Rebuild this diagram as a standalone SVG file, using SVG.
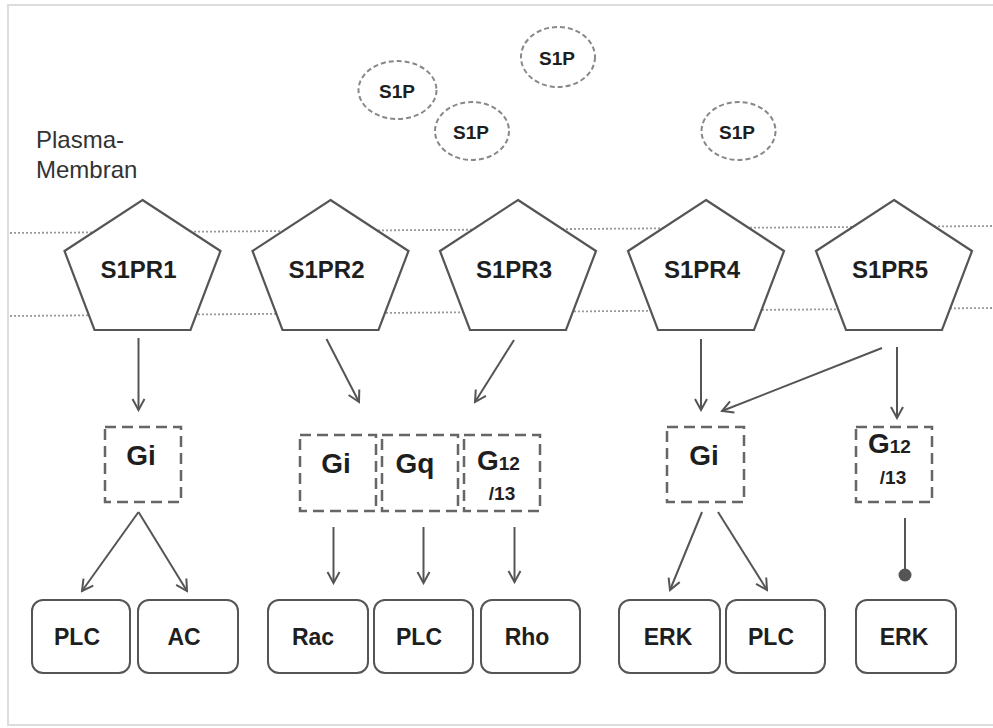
<svg xmlns="http://www.w3.org/2000/svg" width="993" height="728" viewBox="0 0 993 728">
<style>
.t{font-family:"Liberation Sans",Arial,sans-serif;font-weight:bold;fill:#1e1e1e;}
.pent{fill:#fff;stroke:#555;stroke-width:2.2;}
.lig{fill:#fff;stroke:#888;stroke-width:2;stroke-dasharray:5 3;}
.gp{fill:#fff;stroke:#666;stroke-width:2.5;stroke-dasharray:11 6;}
.eff{fill:#fff;stroke:#555;stroke-width:2;}
.mem{stroke:#999;stroke-width:1.8;stroke-dasharray:2 2;fill:none;}
.con{stroke:#555;stroke-width:2;fill:none;}
.arr{marker-end:url(#ah);}
</style>
<defs>
<marker id="ah" viewBox="-13 -8 15 16" refX="0" refY="0" markerWidth="15" markerHeight="16" markerUnits="userSpaceOnUse" orient="auto">
<path d="M-11,-6 L0,0 L-11,6" fill="none" stroke="#555" stroke-width="2"/>
</marker>
</defs>
<rect x="0" y="0" width="993" height="728" fill="#fff"/>
<rect x="8" y="5" width="1000" height="720" fill="none" stroke="#ddd" stroke-width="2"/>
<g id="membrane">
<line class="mem" x1="10" y1="233" x2="993" y2="226"/>
<line class="mem" x1="10" y1="316" x2="993" y2="308"/>
<text x="36" y="148" style="font-family:'Liberation Sans',Arial,sans-serif;font-size:24px;fill:#333">Plasma-</text>
<text x="36" y="178" style="font-family:'Liberation Sans',Arial,sans-serif;font-size:24px;fill:#333">Membran</text>
</g>
<g id="s1p1"><ellipse class="lig" cx="558" cy="57" rx="37" ry="30"/><text class="t" x="557" y="65" font-size="19" text-anchor="middle">S1P</text></g>
<g id="s1p2"><ellipse class="lig" cx="397.5" cy="90" rx="39" ry="29"/><text class="t" x="397" y="98" font-size="19" text-anchor="middle">S1P</text></g>
<g id="s1p3"><ellipse class="lig" cx="472" cy="131" rx="37" ry="29"/><text class="t" x="471" y="139" font-size="19" text-anchor="middle">S1P</text></g>
<g id="s1p4"><ellipse class="lig" cx="738.5" cy="131" rx="37" ry="29"/><text class="t" x="737" y="139" font-size="19" text-anchor="middle">S1P</text></g>
<g id="s1pr1"><polygon class="pent" points="142.5,200 220.5,251 190.5,330 94.5,330 64.5,251"/><text class="t" x="138.5" y="278" font-size="24" text-anchor="middle">S1PR1</text></g>
<g id="s1pr2"><polygon class="pent" points="330.5,200 408.5,251 378.5,330 282.5,330 252.5,251"/><text class="t" x="326.5" y="278" font-size="24" text-anchor="middle">S1PR2</text></g>
<g id="s1pr3"><polygon class="pent" points="518,200 596,251 566,330 470,330 440,251"/><text class="t" x="514" y="278" font-size="24" text-anchor="middle">S1PR3</text></g>
<g id="s1pr4"><polygon class="pent" points="706,200 784,251 754,330 658,330 628,251"/><text class="t" x="702" y="278" font-size="24" text-anchor="middle">S1PR4</text></g>
<g id="s1pr5"><polygon class="pent" points="894,200 972,251 942,330 846,330 816,251"/><text class="t" x="890" y="278" font-size="24" text-anchor="middle">S1PR5</text></g>
<g id="gi1"><rect class="gp" x="105" y="427" width="76" height="75"/><text class="t" x="141" y="465" font-size="28" text-anchor="middle">Gi</text></g>
<g id="gi2"><rect class="gp" x="300" y="435" width="76" height="76"/><text class="t" x="336" y="473" font-size="28" text-anchor="middle">Gi</text></g>
<g id="gq"><rect class="gp" x="382" y="435" width="76" height="76"/><text class="t" x="415" y="473" font-size="28" text-anchor="middle">Gq</text></g>
<g id="g1213a"><rect class="gp" x="464" y="435" width="76" height="76"/><text class="t" x="477" y="470" font-size="28">G<tspan font-size="19">12</tspan></text><text class="t" x="502" y="500" font-size="19" text-anchor="middle">/13</text></g>
<g id="gi4"><rect class="gp" x="667" y="427" width="77" height="75"/><text class="t" x="704" y="465" font-size="28" text-anchor="middle">Gi</text></g>
<g id="g1213b"><rect class="gp" x="856" y="427" width="76" height="75"/><text class="t" x="868" y="453" font-size="28">G<tspan font-size="19">12</tspan></text><text class="t" x="893" y="484" font-size="19" text-anchor="middle">/13</text></g>
<g id="plc1"><rect class="eff" x="32" y="600" width="98" height="73" rx="11"/><text class="t" x="77" y="645" font-size="23" text-anchor="middle">PLC</text></g>
<g id="ac"><rect class="eff" x="138" y="600" width="100" height="73" rx="11"/><text class="t" x="184" y="645" font-size="23" text-anchor="middle">AC</text></g>
<g id="rac"><rect class="eff" x="268" y="600" width="100" height="73" rx="11"/><text class="t" x="313" y="645" font-size="23" text-anchor="middle">Rac</text></g>
<g id="plc2"><rect class="eff" x="374" y="600" width="99" height="73" rx="11"/><text class="t" x="419" y="645" font-size="23" text-anchor="middle">PLC</text></g>
<g id="rho"><rect class="eff" x="481" y="600" width="99" height="73" rx="11"/><text class="t" x="527" y="645" font-size="23" text-anchor="middle">Rho</text></g>
<g id="erk1"><rect class="eff" x="619" y="600" width="101" height="73" rx="11"/><text class="t" x="668" y="645" font-size="23" text-anchor="middle">ERK</text></g>
<g id="plc3"><rect class="eff" x="726" y="600" width="99" height="73" rx="11"/><text class="t" x="771" y="645" font-size="23" text-anchor="middle">PLC</text></g>
<g id="erk2"><rect class="eff" x="856" y="600" width="100" height="73" rx="11"/><text class="t" x="904" y="645" font-size="23" text-anchor="middle">ERK</text></g>
<g id="connectors">
<line class="con arr" x1="138.5" y1="338" x2="138.5" y2="410"/>
<line class="con arr" x1="326.5" y1="339" x2="359" y2="402"/>
<line class="con arr" x1="514" y1="340" x2="475" y2="402"/>
<line class="con arr" x1="701" y1="339" x2="701" y2="410"/>
<line class="con arr" x1="882" y1="348" x2="722" y2="411"/>
<line class="con arr" x1="897" y1="347" x2="897" y2="418"/>
<line class="con arr" x1="138.5" y1="512" x2="82" y2="591"/>
<line class="con arr" x1="138.5" y1="512" x2="187" y2="591"/>
<line class="con arr" x1="333.5" y1="527" x2="333.5" y2="583"/>
<line class="con arr" x1="423.5" y1="527" x2="423.5" y2="583"/>
<line class="con arr" x1="514.5" y1="527" x2="514.5" y2="582"/>
<line class="con arr" x1="702" y1="512" x2="670" y2="590"/>
<line class="con arr" x1="718" y1="512" x2="767" y2="590"/>
<line class="con" x1="905" y1="518" x2="905" y2="575"/>
<circle cx="905" cy="575" r="6.5" fill="#555"/>
</g>
</svg>
